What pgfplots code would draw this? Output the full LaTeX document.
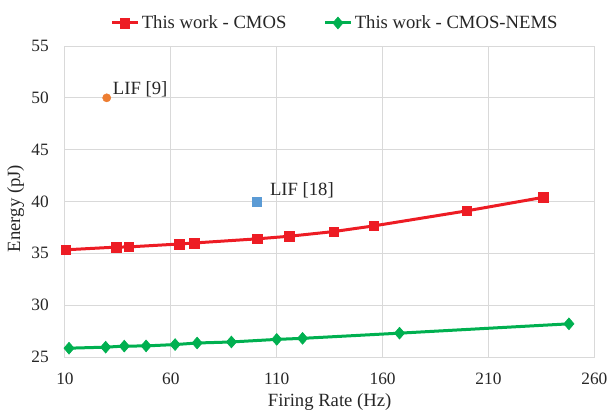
\documentclass[border=0pt]{standalone}
\usepackage{fontspec}
\setmainfont{Liberation Serif}
\usepackage{pgfplots}
\pgfplotsset{compat=1.18}
\definecolor{cred}{HTML}{ED1C24}
\definecolor{cgreen}{HTML}{00B050}
\definecolor{corange}{HTML}{ED7D31}
\definecolor{cblue}{HTML}{5B9BD5}
\definecolor{gridgray}{HTML}{D9D9D9}
\definecolor{txt}{HTML}{262626}
\begin{document}
\begin{tikzpicture}
\useasboundingbox (-48.75pt,-41.25pt) rectangle (406.5pt,267.75pt);
\begin{axis}[
  at={(0,0)}, anchor=south west,
  scale only axis, width=397pt, height=233.25pt,
  xmin=10, xmax=260, ymin=25, ymax=55,
  xtick={10,60,110,160,210,260}, ytick={25,30,35,40,45,50,55},
  grid=major, grid style={draw=gridgray, line width=0.75pt},
  axis line style={draw=gridgray, line width=0.75pt},
  tick style={draw=none},
  font=\fontsize{14}{16.8}\selectfont,
  tick label style={text=txt, inner sep=0pt, font=\fontsize{13}{15.6}\selectfont},
  xticklabel style={anchor=north, yshift=-12pt},
  yticklabel style={anchor=east, xshift=-12pt},
  /pgf/number format/assume math mode=true,
  xlabel={Firing Rate (Hz)}, ylabel={Energy (pJ)},
  every axis x label/.style={at={(axis description cs:0.5,0)}, anchor=center, yshift=-33.5pt, text=txt},
  every axis y label/.style={at={(axis description cs:-0.093,0.4775)}, rotate=90, anchor=center, text=txt},
  legend columns=2,
  legend style={at={(0.511,1.074)}, anchor=center, draw=none, fill=none,
    font=\fontsize{14}{16.8}\selectfont, text=txt, inner sep=0pt,
    /tikz/every even column/.append style={column sep=26pt}},
  legend cell align=left,
  legend image code/.code={\draw[#1, mark repeat=2, mark phase=2] plot coordinates {(0pt,0pt) (9.5pt,0pt) (19pt,0pt)};},
]
\addplot[cred, line width=2.25pt, mark=square*, mark size=3.6pt, mark options={solid, line width=0.4pt}]
  coordinates {(10.3,35.34) (34.1,35.6) (40.1,35.62) (63.9,35.9) (71.1,36.0) (100.9,36.4) (116.0,36.65) (136.9,37.1) (155.9,37.65) (199.8,39.1) (235.8,40.4)};
\addlegendentry{This work - CMOS}
\addplot[cgreen, line width=2.25pt, mark=diamond*, mark size=4.4pt, mark options={solid, line width=0.5pt, xscale=1.15}]
  coordinates {(11.9,25.85) (29.2,25.95) (38.0,26.05) (48.3,26.07) (62.0,26.2) (72.4,26.35) (88.6,26.45) (110.0,26.7) (122.2,26.8) (168.0,27.3) (248.0,28.2)};
\addlegendentry{This work - CMOS-NEMS}
\addplot[only marks, mark=*, mark size=3.1pt, mark options={line width=0.3pt}, corange, forget plot] coordinates {(29.7,50)};
\addplot[only marks, mark=square*, mark size=3.6pt, mark options={line width=0.3pt}, cblue, forget plot] coordinates {(100.6,40)};
\node[anchor=west, inner sep=0pt, text=txt] at (axis cs:32.5,50.8) {LIF [9]};
\node[anchor=west, inner sep=0pt, text=txt] at (axis cs:106.7,41.06) {LIF [18]};
\end{axis}
\end{tikzpicture}
\end{document}
